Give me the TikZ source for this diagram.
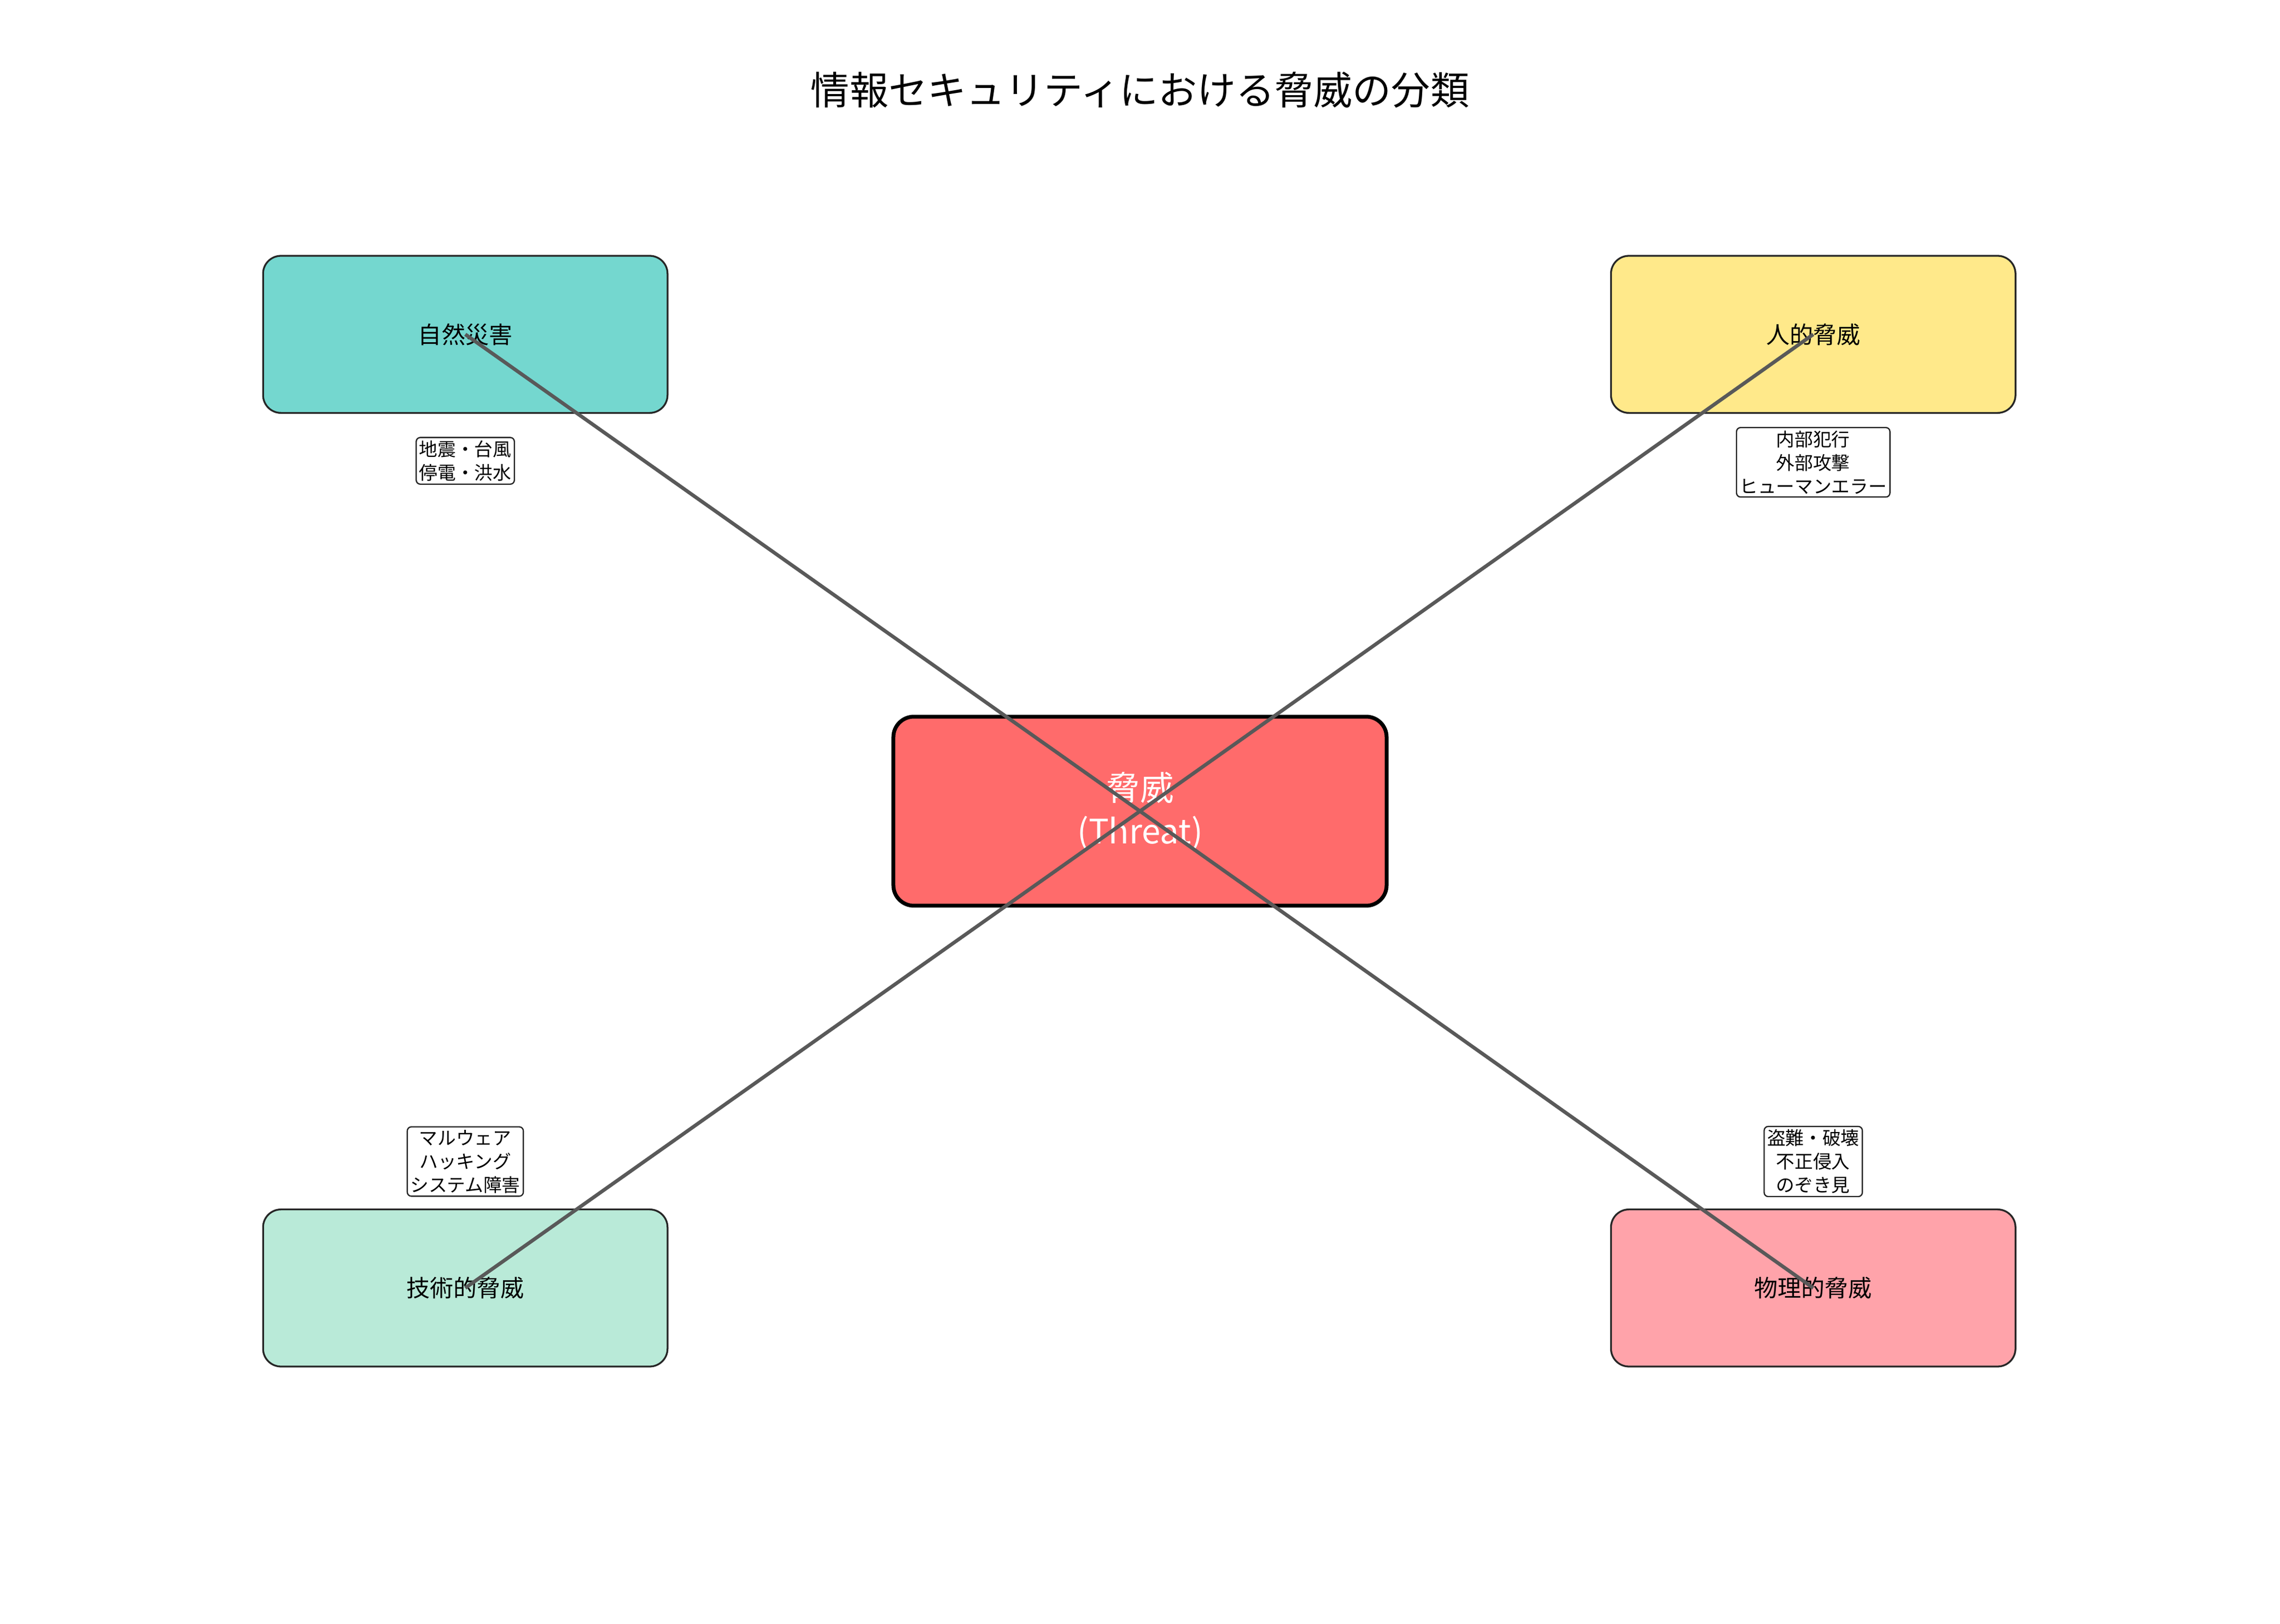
\documentclass[tikz,border=0pt]{standalone}
\usepackage{fontspec}
\setmainfont{Noto Sans CJK JP}
\begin{document}
\begin{tikzpicture}[x=0.01cm,y=-0.01cm,
  cat/.style={draw=black!85,line width=0.35pt,rounded corners=3.5pt,minimum width=2.78cm,minimum height=1.08cm,font=\fontsize{4.6pt}{5.5pt}\selectfont},
  lab/.style={draw=black!85,fill=white,line width=0.25pt,rounded corners=0.8pt,inner sep=0.6pt,align=center,font=\fontsize{3.6pt}{4.6pt}\selectfont},
  conn/.style={draw=black!65,line width=0.7pt}]
\useasboundingbox (0,0) rectangle (1568,1117);
\node[font=\fontsize{7.6pt}{9pt}\selectfont] (title) at (784,62) {情報セキュリティにおける脅威の分類};
\node[cat,fill={rgb,255:red,116;green,215;blue,207}] (nat) at (320,230) {自然災害};
\node[cat,fill={rgb,255:red,255;green,233;blue,138}] (hum) at (1247,230) {人的脅威};
\node[cat,fill={rgb,255:red,185;green,234;blue,216}] (tec) at (320,886) {技術的脅威};
\node[cat,fill={rgb,255:red,255;green,163;blue,170}] (phy) at (1247,886) {物理的脅威};
\node[draw=black,line width=0.75pt,rounded corners=4pt,minimum width=3.39cm,minimum height=1.30cm,fill={rgb,255:red,255;green,107;blue,107},text=white,align=center,font=\fontsize{6.6pt}{8.4pt}\selectfont] (thr) at (784,558) {脅威\\(Threat)};
\node[lab] (l1) at (320,317) {地震・台風\\停電・洪水};
\node[lab] (l2) at (1247,318) {内部犯行\\外部攻撃\\ヒューマンエラー};
\node[lab] (l3) at (320,799) {マルウェア\\ハッキング\\システム障害};
\node[lab] (l4) at (1247,799) {盗難・破壊\\不正侵入\\のぞき見};
\draw[conn] (nat.center) -- (thr.center);
\draw[conn] (hum.center) -- (thr.center);
\draw[conn] (tec.center) -- (thr.center);
\draw[conn] (phy.center) -- (thr.center);
\end{tikzpicture}
\end{document}
